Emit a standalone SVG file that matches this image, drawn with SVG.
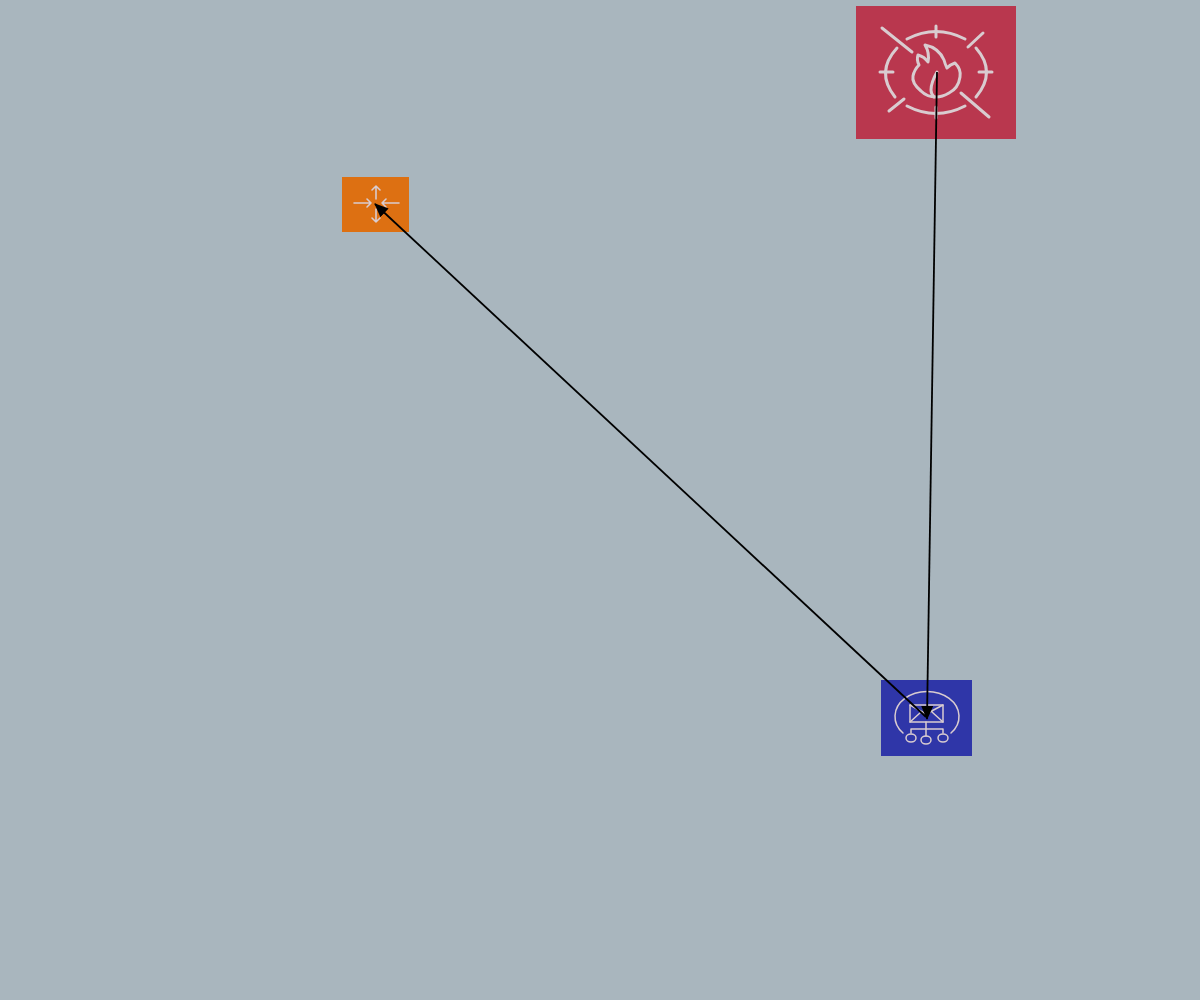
<svg xmlns="http://www.w3.org/2000/svg" width="1200" height="1000" viewBox="0 0 1200 1000">
<defs>
<style>
.g{fill:none;stroke:#d9ccd0;stroke-linecap:round;stroke-linejoin:round}
.c{fill:none;stroke:#000;stroke-width:1.8}
</style>
<marker id="a" markerUnits="userSpaceOnUse" markerWidth="15" markerHeight="12" refX="13" refY="6" orient="auto" viewBox="0 0 15 12"><path d="M0 0L14 6L0 12Z" fill="#000"/></marker>
</defs>
<rect width="1200" height="1000" fill="#a9b6be"/>
<g id="node-waf">
<rect x="856" y="6" width="160" height="133" fill="#b9374e"/>
<g class="g" stroke-width="3">
<path d="M907 39Q936 24 965 39M897 48Q875 72 895 97M976 48Q997 72 976 97M907 106Q936 121 965 106"/>
<path d="M936 26V37M936 107V118M880 72H893M979 72H992M882 28L912 52M961 93L989 117M968 47L983 33M889 111L904 99"/>
<path d="M925 45C935 47 941 53 944 60C945 64 946 66 947 68C949 66 952 64 955 63C959 67 961 72 960 77C959 84 955 90 949 93C944 96 940 97 936 97C930 97 925 95 921 91C915 86 912 81 913 76C914 71 916 68 919 65C917 61 917 58 918 55C922 56 926 59 928 62C929 57 928 50 925 45Z"/>
<path d="M937 72C933 79 931 85 931 90C931 93 932 95 934 97"/>
</g>
</g>
<g id="node-orange">
<rect x="342" y="177" width="67" height="55" fill="#dd7012"/>
<g class="g" stroke-width="1.6">
<path d="M376 186V199M372 190L376 186L380 190M376 209V222M372 218L376 222L380 218M354 203H371M367 199L371 203L367 207M399 203H382M386 199L382 203L386 207"/>
</g>
</g>
<g id="node-blue">
<rect x="881" y="680" width="91" height="76" fill="#2f36a8"/>
<g class="g" stroke-width="1.5">
<path d="M903 733A32 25 0 1 1 951 733"/>
<rect x="910" y="705" width="33" height="17"/>
<path d="M910 705L926 714L943 705M910 722L921 712M943 722L932 712"/>
<path d="M926 722V736M911 733V729H943V733"/>
<ellipse cx="911" cy="738" rx="5" ry="4"/>
<ellipse cx="926" cy="740" rx="5" ry="4"/>
<ellipse cx="943" cy="738" rx="5" ry="4"/>
</g>
</g>
<g id="connectors">
<path class="c" d="M937 72L927 719" marker-end="url(#a)"/>
<path class="c" d="M926 717L375 204" marker-end="url(#a)"/>
</g>
</svg>
